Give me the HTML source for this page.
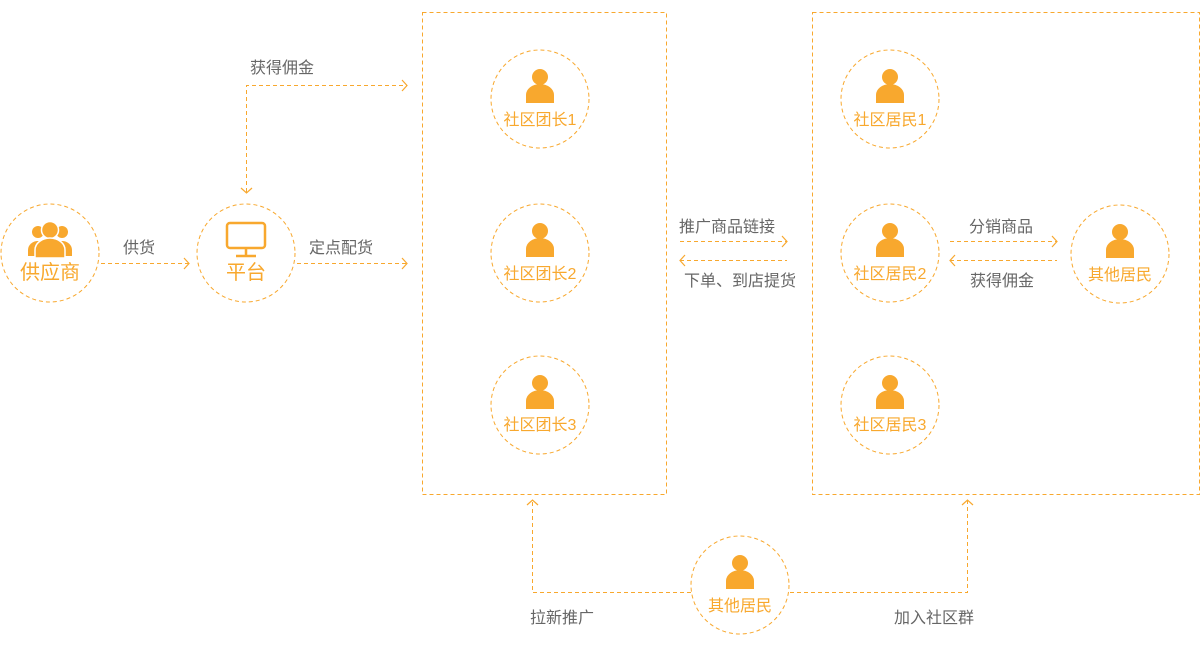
<!DOCTYPE html>
<html><head><meta charset="utf-8"><style>
html,body{margin:0;padding:0;background:#fff;}
svg{display:block;}
text{font-family:"Liberation Sans","Noto Sans CJK SC",sans-serif;}
.lbl{fill:#666;font-size:16px;}
.nm{fill:#F8A82E;font-size:16px;text-anchor:middle;}
</style></head><body>
<svg width="1200" height="646" viewBox="0 0 1200 646">
<defs>
<g id="p"><circle cx="0" cy="-22" r="8" fill="#F8A82E"/><path d="M-14,4 L-14,-4 A14,11 0 0 1 14,-4 L14,4 Z" fill="#F8A82E"/></g>
</defs>
<g fill="none" stroke="#F8A82E" stroke-width="1" stroke-dasharray="4,3">
<rect x="422.5" y="12.5" width="244" height="482"/>
<rect x="812.5" y="12.5" width="387" height="482"/>
<circle cx="50" cy="253" r="49"/>
<circle cx="246" cy="253" r="49"/>
<circle cx="540" cy="99" r="49"/>
<circle cx="540" cy="253" r="49"/>
<circle cx="540" cy="405" r="49"/>
<circle cx="890" cy="99" r="49"/>
<circle cx="890" cy="253" r="49"/>
<circle cx="890" cy="405" r="49"/>
<circle cx="1120" cy="254" r="49"/>
<circle cx="740" cy="585" r="49"/>
<path d="M101,263.5H189"/>
<path d="M297,263.5H407"/>
<path d="M246.5,192V85.5H407"/>
<path d="M680,241.5H787"/>
<path d="M680,260.5H787"/>
<path d="M950,241.5H1057"/>
<path d="M950,260.5H1057"/>
<path d="M691,592.5H532.5V500"/>
<path d="M790,592.5H967.5V500"/>
</g>
<g fill="none" stroke="#F8A82E" stroke-width="1.2">
<path d="M184,258L189,263.5L184,269"/>
<path d="M402,258L407,263.5L402,269"/>
<path d="M402,80L407,85.5L402,91"/>
<path d="M241,188L246.5,193L252,188"/>
<path d="M782,236L787,241.5L782,247"/>
<path d="M685,255L680,260.5L685,266"/>
<path d="M1052,236L1057,241.5L1052,247"/>
<path d="M955,255L950,260.5L955,266"/>
<path d="M527,505L532.5,500L538,505"/>
<path d="M962,505L967.5,500L973,505"/>
</g>
<g fill="#F8A82E">
<circle cx="38" cy="232" r="6"/><circle cx="62" cy="232" r="6"/>
<path d="M28,256V250A10,9 0 0 1 48,250V256Z"/><path d="M52,256V250A10,9 0 0 1 72,250V256Z"/>
<circle cx="50" cy="230" r="8.5" stroke="#fff" stroke-width="1.5"/>
<path d="M35,258V250A15,12 0 0 1 65,250V258Z" stroke="#fff" stroke-width="1.5"/>
</g>
<g fill="none" stroke="#F8A82E" stroke-width="2.5">
<rect x="227" y="223" width="38" height="25" rx="3"/>
<path d="M246,249V255M236,256H256"/>
</g>
<text x="50" y="279" class="nm" style="font-size:20px">供应商</text>
<text x="246" y="279" class="nm" style="font-size:20px">平台</text>
<use href="#p" x="540" y="99"/><text x="540" y="125" class="nm">社区团长1</text>
<use href="#p" x="540" y="253"/><text x="540" y="279" class="nm">社区团长2</text>
<use href="#p" x="540" y="405"/><text x="540" y="430" class="nm">社区团长3</text>
<use href="#p" x="890" y="99"/><text x="890" y="125" class="nm">社区居民1</text>
<use href="#p" x="890" y="253"/><text x="890" y="279" class="nm">社区居民2</text>
<use href="#p" x="890" y="405"/><text x="890" y="430" class="nm">社区居民3</text>
<use href="#p" x="1120" y="254"/><text x="1120" y="280" class="nm">其他居民</text>
<use href="#p" x="740" y="585"/><text x="740" y="611" class="nm">其他居民</text>
<text x="123" y="253" class="lbl">供货</text>
<text x="309" y="253" class="lbl">定点配货</text>
<text x="250" y="73" class="lbl">获得佣金</text>
<text x="679" y="232" class="lbl">推广商品链接</text>
<text x="684" y="286" class="lbl">下单、到店提货</text>
<text x="969" y="232" class="lbl">分销商品</text>
<text x="970" y="286" class="lbl">获得佣金</text>
<text x="530" y="623" class="lbl">拉新推广</text>
<text x="894" y="623" class="lbl">加入社区群</text>
</svg>
</body></html>
